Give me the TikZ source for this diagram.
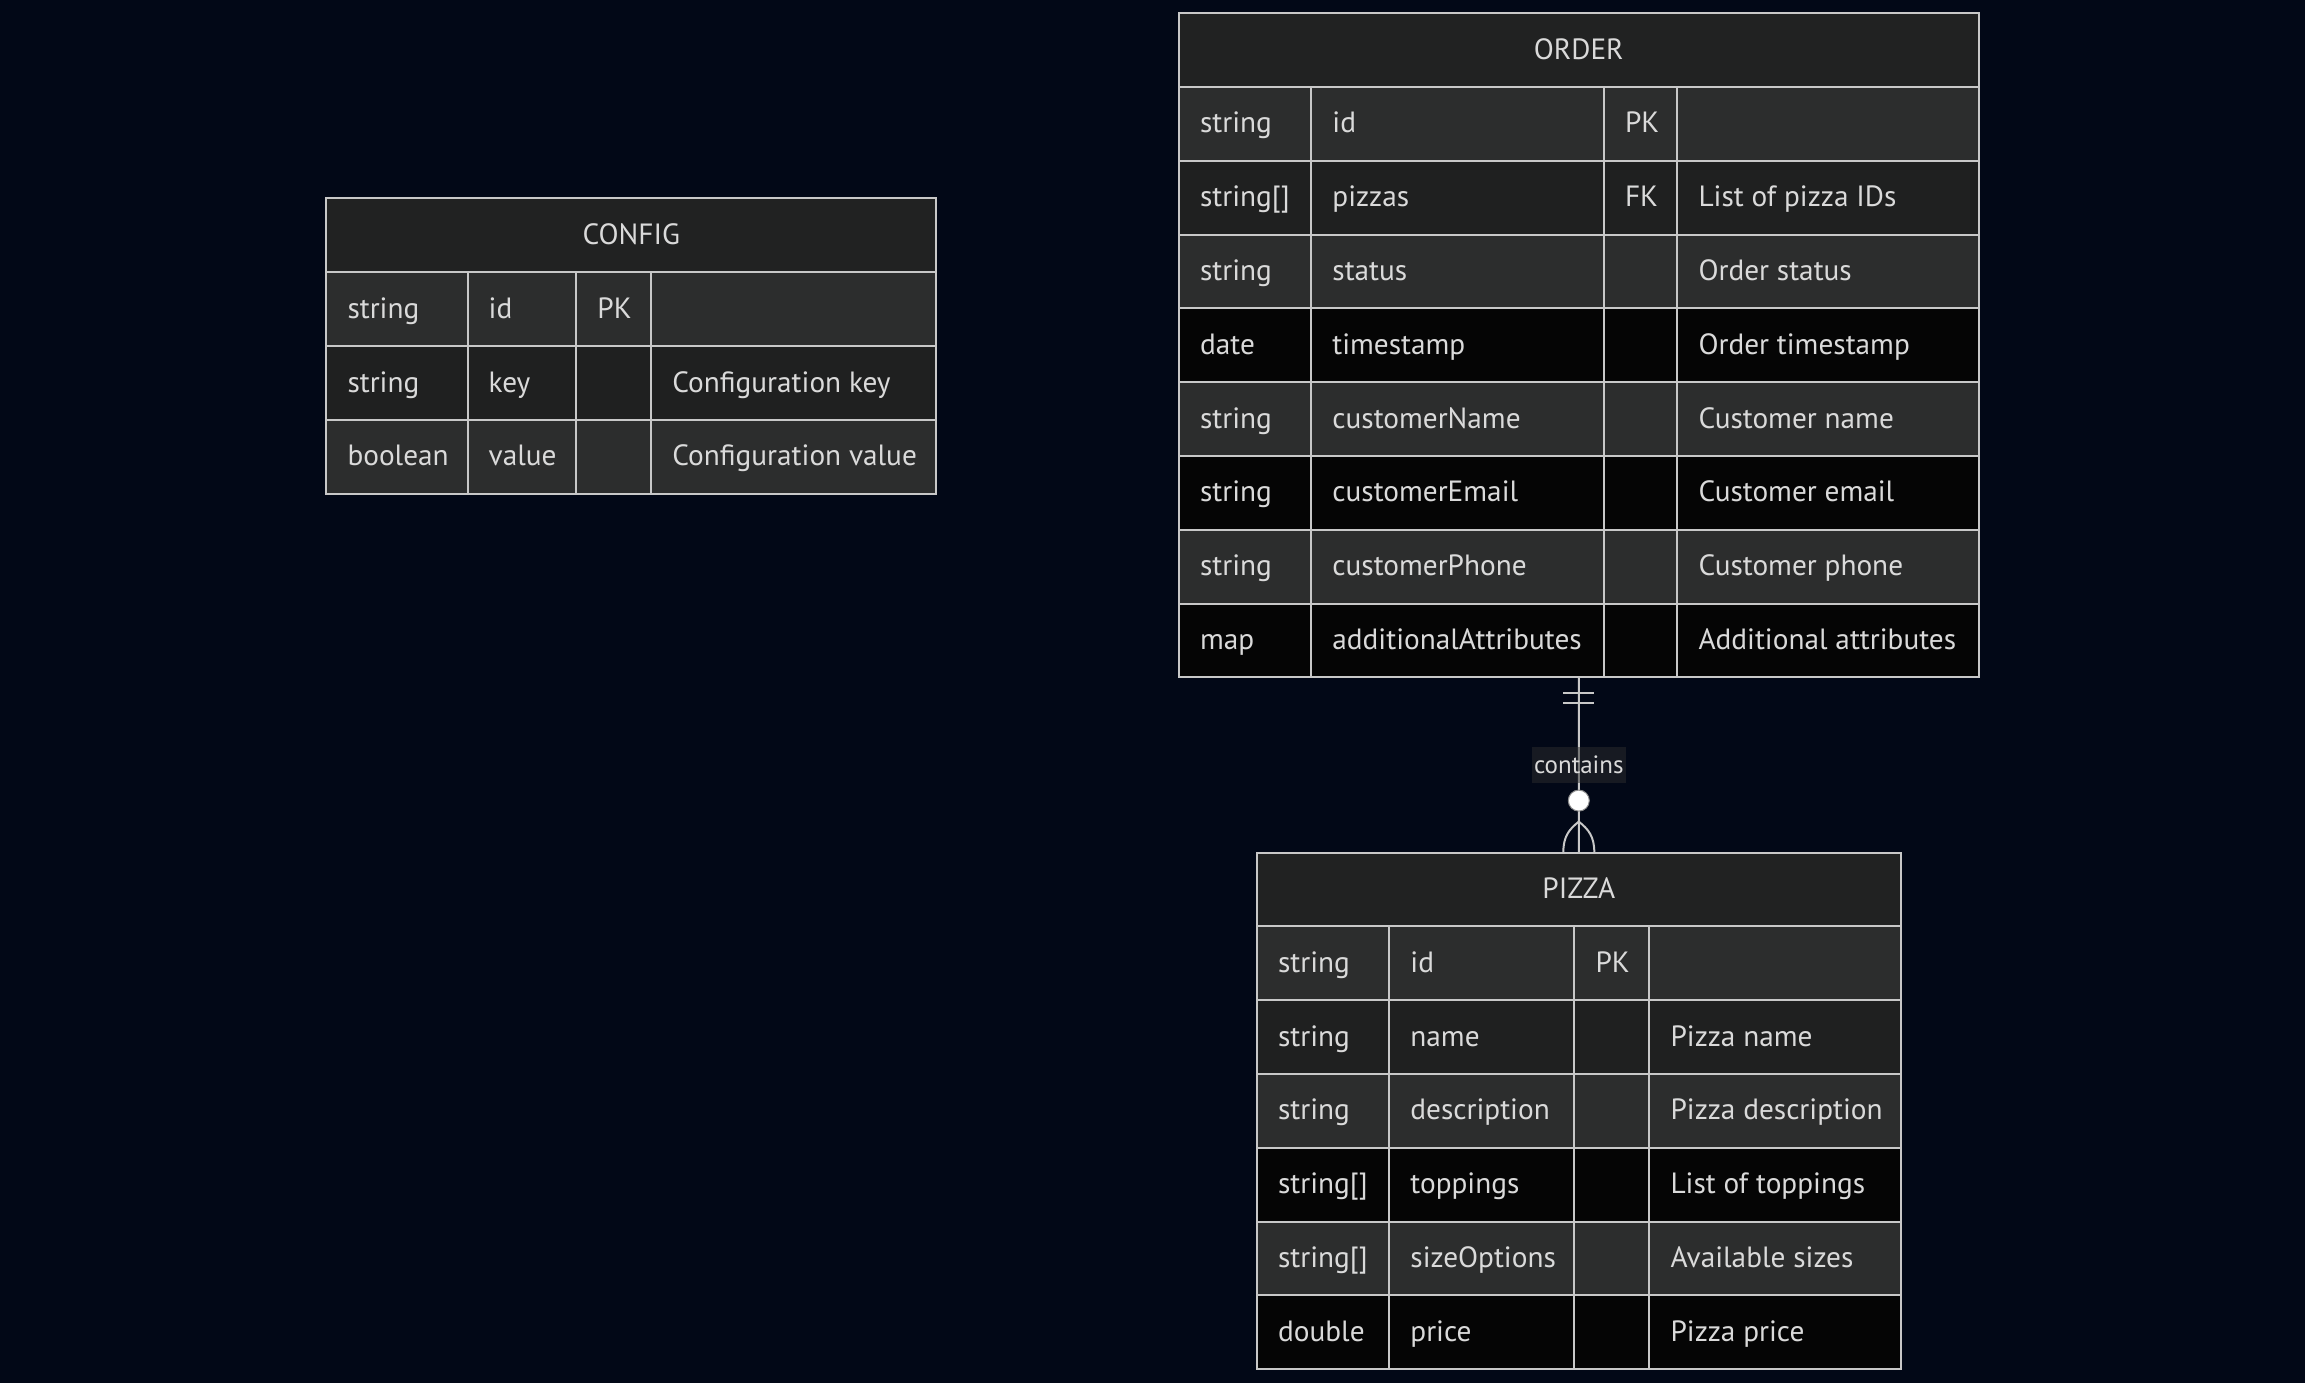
\documentclass[tikz,border=0pt]{standalone}
\usepackage{fontspec}
\setmainfont{PT Sans}
\usetikzlibrary{positioning,calc}

\definecolor{erbg}{RGB}{2,8,23}
\definecolor{erhead}{RGB}{33,34,34}
\definecolor{erlight}{RGB}{44,45,45}
\definecolor{ermid}{RGB}{31,32,32}
\definecolor{erdark}{RGB}{5,5,5}
\definecolor{erline}{RGB}{200,200,200}
\definecolor{ertext}{RGB}{218,218,218}

\newcommand{\erfont}{\fontsize{29.3}{35}\selectfont}

\tikzset{
  cell/.style={draw=erline, line width=2pt, anchor=north west, outer sep=0pt,
    minimum height=73.8pt, inner sep=0pt},
  celltext/.style={inner sep=0pt, text=ertext, font=\erfont,
    text height=23pt, text depth=5pt},
  head/.style={cell, fill=erhead, text=ertext, font=\erfont,
    text height=23pt, text depth=5pt},
  conn/.style={draw=erline, line width=2pt},
  rel/.style={fill=erlight, fill opacity=0.5, text opacity=1, text=ertext,
    font=\fontsize{25}{30}\selectfont, inner xsep=2pt, minimum height=36pt}
}

% one field of an entity: name, x, y, width, fill, text
\newcommand{\ercell}[6]{%
  \node[cell, fill=#5, minimum width=#4pt] (#1) at (#2,#3) {};
  \node[celltext, right=21pt of #1.west] (#1-t) {#6};
}

\begin{document}
\begin{tikzpicture}[x=1pt,y=-1pt]
\fill[erbg] (0,0) rectangle (2305,1383);
\useasboundingbox (0,0) rectangle (2305,1383);

% CONFIG
\node[head, minimum width=610.1pt] (config) at (326.3,198.5) {CONFIG};
\foreach \ty/\nm/\ky/\cm/\fc [count=\i] in {
    string/id/PK/{}/erlight,
    string/key/{}/Configuration key/ermid,
    boolean/value/{}/Configuration value/erlight} {
  \ercell{config-\i-a}{326.3}{198.5+73.8*\i}{141.2}{\fc}{\ty}
  \ercell{config-\i-b}{467.5}{198.5+73.8*\i}{108.7}{\fc}{\nm}
  \ercell{config-\i-c}{576.2}{198.5+73.8*\i}{75}{\fc}{\ky}
  \ercell{config-\i-d}{651.2}{198.5+73.8*\i}{285.2}{\fc}{\cm}
}

% ORDER
\node[head, minimum width=799.7pt] (order) at (1178.9,13.2) {ORDER};
\foreach \ty/\nm/\ky/\cm/\fc [count=\i] in {
    string/id/PK/{}/erlight,
    string[]/pizzas/FK/List of pizza IDs/ermid,
    string/status/{}/Order status/erlight,
    date/timestamp/{}/Order timestamp/erdark,
    string/customerName/{}/Customer name/erlight,
    string/customerEmail/{}/Customer email/erdark,
    string/customerPhone/{}/Customer phone/erlight,
    map/additionalAttributes/{}/Additional attributes/erdark} {
  \ercell{order-\i-a}{1178.9}{13.2+73.8*\i}{132.3}{\fc}{\ty}
  \ercell{order-\i-b}{1311.2}{13.2+73.8*\i}{292.6}{\fc}{\nm}
  \ercell{order-\i-c}{1603.8}{13.2+73.8*\i}{73.5}{\fc}{\ky}
  \ercell{order-\i-d}{1677.3}{13.2+73.8*\i}{301.3}{\fc}{\cm}
}

% PIZZA
\node[head, minimum width=643.8pt] (pizza) at (1256.9,852.6) {PIZZA};
\foreach \ty/\nm/\ky/\cm/\fc [count=\i] in {
    string/id/PK/{}/erlight,
    string/name/{}/Pizza name/ermid,
    string/description/{}/Pizza description/erlight,
    string[]/toppings/{}/List of toppings/erdark,
    string[]/sizeOptions/{}/Available sizes/erlight,
    double/price/{}/Pizza price/erdark} {
  \ercell{pizza-\i-a}{1256.9}{852.6+73.8*\i}{132.3}{\fc}{\ty}
  \ercell{pizza-\i-b}{1389.2}{852.6+73.8*\i}{185.2}{\fc}{\nm}
  \ercell{pizza-\i-c}{1574.4}{852.6+73.8*\i}{74.9}{\fc}{\ky}
  \ercell{pizza-\i-d}{1649.3}{852.6+73.8*\i}{251.4}{\fc}{\cm}
}

% relation ORDER ||--o{ PIZZA
\coordinate (order-end) at (order.south |- order-8-a.south);
\coordinate (pizza-end) at (pizza.north);
\draw[conn] (order-end) -- (pizza-end);
\draw[conn] ($(order-end)+(-15.5,16)$) -- ++(31,0);
\draw[conn] ($(order-end)+(-15.5,26)$) -- ++(31,0);
\draw[conn] ($(pizza-end)+(0,-31)$) .. controls +(-10,8) and +(0,-16) .. ($(pizza-end)+(-15.5,0)$);
\draw[conn] ($(pizza-end)+(0,-31)$) .. controls +(10,8) and +(0,-16) .. ($(pizza-end)+(15.5,0)$);
\filldraw[conn, draw=erline!70!black, line width=1pt, fill=white] ($(pizza-end)+(0,-52)$) circle (10.5);
\node[rel] (contains) at ($(order-end)!0.5!(pizza-end)$) {contains};
\end{tikzpicture}
\end{document}
